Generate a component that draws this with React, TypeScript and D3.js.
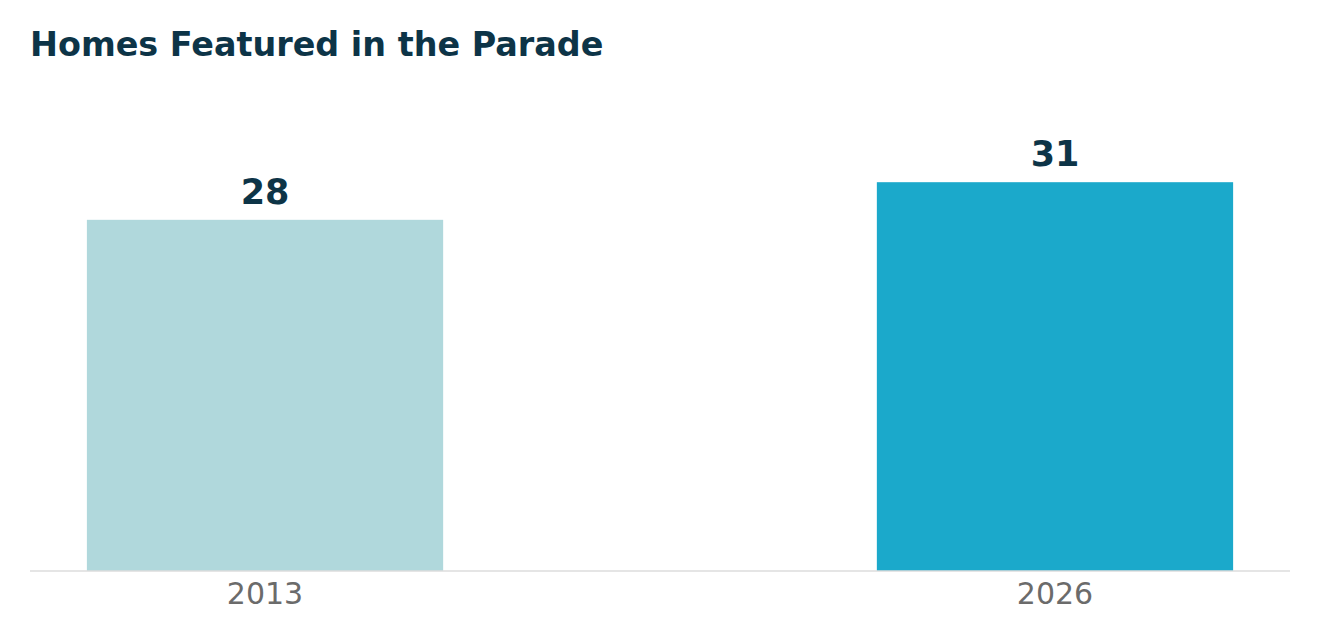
import React from "react";
import * as d3 from "d3";

const categories = ["2013", "2026"];
const values = [28, 31];
const barColors = ["#b0d8dc", "#1ba9cb"];
const title = "Homes Featured in the Parade";

const W = 1320;
const H = 640;
const left = 30;
const right = 1290;
const baseY = 571;
const topY = 85;

export default function App() {
  const x = d3
    .scaleBand<string>()
    .domain(categories)
    .range([left, right])
    .paddingInner(0.549)
    .paddingOuter(0.072);
  const y = d3.scaleLinear().domain([0, 38.75]).range([baseY, topY]);

  return (
    <svg
      width={W}
      height={H}
      style={{ position: "absolute", left: 0, top: 0, background: "#fff" }}
      fontFamily="'DejaVu Sans', sans-serif"
    >
      <text x={30} y={56} fontSize={33.4} fontWeight="bold" fill="#0d3447">
        {title}
      </text>
      {categories.map((c, i) => (
        <g key={c}>
          <rect
            x={x(c)}
            y={y(values[i])}
            width={x.bandwidth()}
            height={baseY - y(values[i])}
            fill={barColors[i]}
          />
          <text
            x={(x(c) as number) + x.bandwidth() / 2}
            y={y(values[i]) - 16}
            textAnchor="middle"
            fontSize={35}
            fontWeight="bold"
            fill="#0d3447"
          >
            {values[i]}
          </text>
          <text
            x={(x(c) as number) + x.bandwidth() / 2}
            y={603.5}
            textAnchor="middle"
            fontSize={30}
            fill="#6b6b6b"
          >
            {c}
          </text>
        </g>
      ))}
      <line x1={left} x2={right} y1={baseY} y2={baseY} stroke="#dddddd" strokeWidth={1.5} />
    </svg>
  );
}
